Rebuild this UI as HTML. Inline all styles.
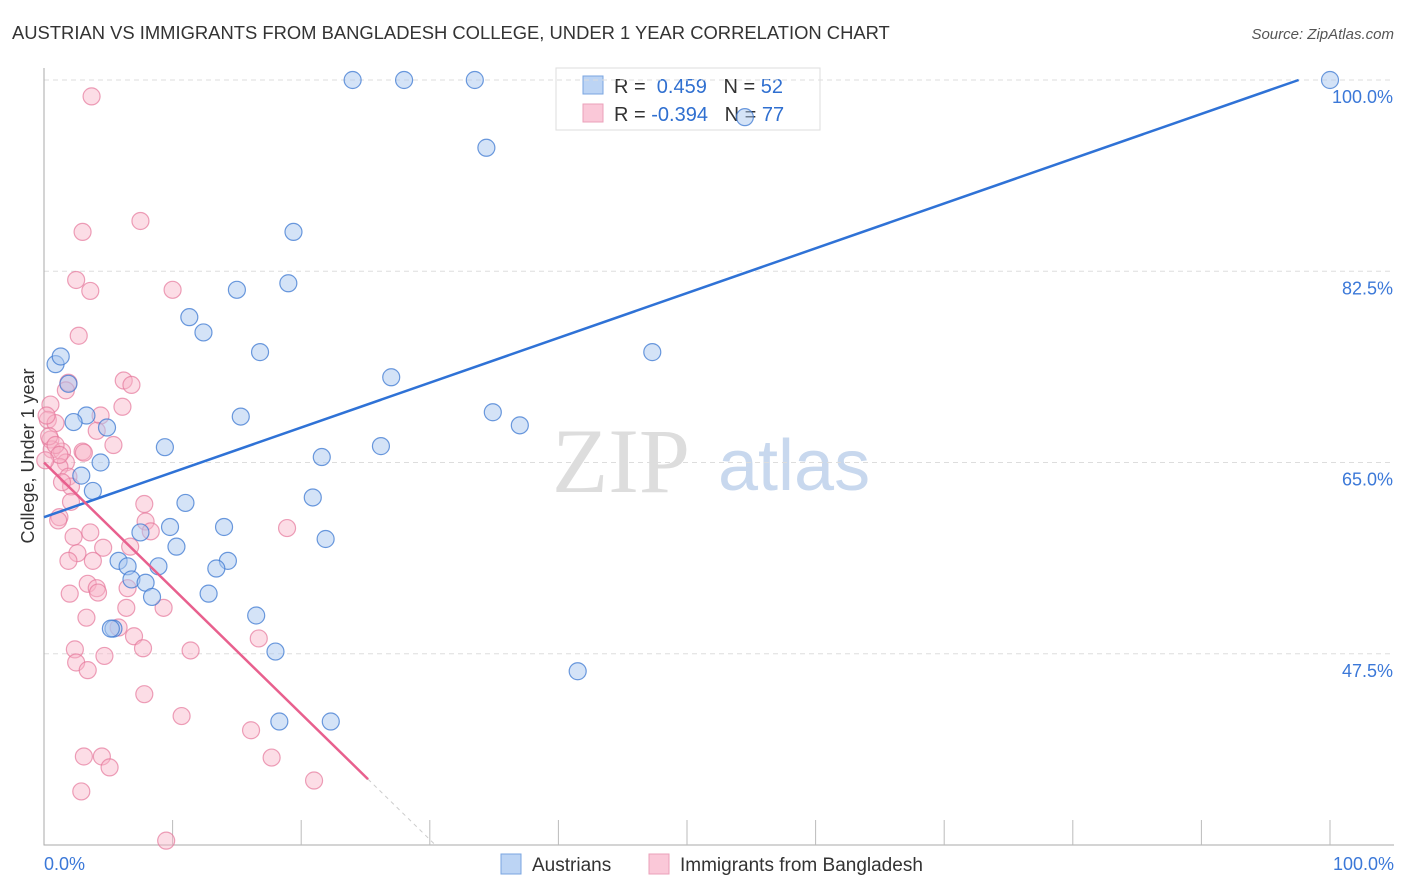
<!DOCTYPE html>
<html><head><meta charset="utf-8"><style>
body{margin:0;background:#fff;font-family:"Liberation Sans",sans-serif;}
</style></head><body>
<svg id="c" width="1406" height="892" style="display:block">
<text x="12" y="39" font-size="18.4" fill="#333">AUSTRIAN VS IMMIGRANTS FROM BANGLADESH COLLEGE, UNDER 1 YEAR CORRELATION CHART</text>
<text x="1394" y="39" font-size="15" fill="#555" font-style="italic" text-anchor="end">Source: ZipAtlas.com</text>
<g><text x="552" y="492" font-size="92" fill="#ddd" font-family="Liberation Serif,serif">ZIP</text><text x="718" y="490" font-size="72" fill="#c8d8ee">atlas</text></g>
<g>
<rect x="556" y="68" width="264" height="62" fill="#fff" stroke="#ddd"/>
<rect x="583" y="76" width="20" height="18" fill="#bcd4f4" stroke="#7aa5e0"/>
<rect x="583" y="104" width="20" height="18" fill="#fac8d8" stroke="#eba0ba"/>
<text x="614" y="93" font-size="20" fill="#333">R = <tspan fill="#2f6fd0">&#160;0.459</tspan>&#160;&#160;&#160;N = <tspan fill="#2f6fd0">52</tspan></text>
<text x="614" y="121" font-size="20" fill="#333">R = <tspan fill="#2f6fd0">-0.394</tspan>&#160;&#160;&#160;N = <tspan fill="#2f6fd0">77</tspan></text>
</g>
<g id="grid"></g><g id="pts"></g><g id="trend"></g>
<text transform="translate(34,456) rotate(-90)" font-size="18" fill="#333" text-anchor="middle">College, Under 1 year</text>
<text x="44" y="870" font-size="18" fill="#3b78d8">0.0%</text>
<text x="1394" y="870" font-size="18" fill="#3b78d8" text-anchor="end">100.0%</text>
<g>
<rect x="501" y="854" width="20" height="20" fill="#bcd4f4" stroke="#7aa5e0"/>
<text x="532" y="871" font-size="19" fill="#333">Austrians</text>
<rect x="649" y="854" width="20" height="20" fill="#fac8d8" stroke="#eba0ba"/>
<text x="680" y="871" font-size="19" fill="#333">Immigrants from Bangladesh</text>
</g>
</svg>
<script>
const yTicks=[47.5,65.0,82.5,100.0];
const xTickCount=10;
const blueX=[24.0,28.0,33.5,100,34.4,19.4,15.0,19.0,11.3,12.4,16.8,47.3,0.9,1.3,1.9,27.0,15.3,34.9,37.0,3.3,2.3,4.9,26.2,9.4,21.6,4.4,2.9,3.8,11.0,20.9,9.8,14.0,7.5,10.3,21.9,5.8,6.5,8.9,14.3,13.4,6.8,7.9,8.4,12.8,16.5,5.4,5.2,18.0,41.5,18.3,22.3,54.5];
const blueY=[100,100,100,100,93.8,86.1,80.8,81.4,78.3,76.9,75.1,75.1,74.0,74.7,72.2,72.8,69.2,69.6,68.4,69.3,68.7,68.2,66.5,66.4,65.5,65.0,63.8,62.4,61.3,61.8,59.1,59.1,58.6,57.3,58.0,56.0,55.5,55.5,56.0,55.3,54.3,54.0,52.7,53.0,51.0,49.8,49.8,47.7,45.9,41.3,41.3,96.6];
const pinkX=[3.7,7.5,3.0,2.5,3.6,10.0,2.7,1.9,1.7,6.2,6.8,6.1,0.5,0.3,0.9,4.4,4.1,5.4,0.5,0.6,1.4,3.0,3.1,1.7,1.2,1.9,2.1,1.4,2.1,7.8,1.2,1.1,3.6,7.9,8.3,2.3,6.7,2.6,4.6,18.9,1.9,3.8,6.5,3.4,4.1,4.2,2.0,6.4,9.3,3.3,5.8,7.0,7.7,11.4,2.4,16.7,2.5,4.7,3.4,7.8,10.7,16.1,3.1,4.5,17.7,5.1,21.0,2.9,9.5,0.2,0.4,0.9,1.2,0.1];
const pinkY=[98.5,87.1,86.1,81.7,80.7,80.8,76.6,72.3,71.6,72.5,72.1,70.1,70.3,68.9,68.6,69.3,67.9,66.6,67.1,66.2,66.0,66.0,65.9,65.0,64.6,63.7,62.8,63.2,61.4,61.2,60.0,59.7,58.6,59.6,58.7,58.2,57.3,56.7,57.2,59.0,56.0,56.0,53.5,53.9,53.5,53.1,53.0,51.7,51.7,50.8,49.9,49.1,48.0,47.8,47.9,48.9,46.7,47.3,46.0,43.8,41.8,40.5,38.1,38.1,38.0,37.1,35.9,34.9,30.4,69.3,67.4,66.6,65.7,65.2];
const blueTrend=[60.0,0.41];   // intercept, slope
const pinkTrend=[65.0,-1.15];
const NS="http://www.w3.org/2000/svg";
const L=44,R=1330,T=80,B=845,yMin=30,yMax=100;
const sx=v=>L+(v/100)*(R-L);
const sy=v=>B-(v-yMin)/(yMax-yMin)*(B-T);
function mk(tag,attrs,parent){const e=document.createElementNS(NS,tag);for(const k in attrs)e.setAttribute(k,attrs[k]);parent.appendChild(e);return e;}
const grid=document.getElementById('grid');
yTicks.forEach(t=>{
 const ln=mk('line',{x1:L,x2:1394,y1:sy(t),y2:sy(t),stroke:'#ddd','stroke-dasharray':'5,4'},grid);
 
 
 const tx=mk('text',{x:1393,y:sy(t)+23,'font-size':18,fill:'#3b78d8','text-anchor':'end'},grid);
 tx.textContent=t.toFixed(1)+'%';
 
 
});
const ax=mk('path',{d:`M${L} 68V${B}H1394`,stroke:'#aaa',fill:'none'},grid);


for(let i=1;i<=xTickCount;i++){
 const tk=mk('line',{x1:sx(i*10),x2:sx(i*10),y1:B-25,y2:B,stroke:'#bbb'},grid);
 
 
}
const pts=document.getElementById('pts');
function series(xs,ys,fill,stroke,name){xs.forEach((x,i)=>{
 const c=mk('circle',{cx:sx(x),cy:sy(ys[i]),r:8.5,fill:fill,stroke:stroke,'stroke-width':1.2},pts);
 
 
});}
series(pinkX,pinkY,'rgba(248,180,200,0.45)','rgba(230,120,155,0.7)','bangladesh-point');
series(blueX,blueY,'rgba(170,200,240,0.5)','rgba(60,120,210,0.75)','austrian-point');
const tr=document.getElementById('trend');
const xb=(100-blueTrend[0])/blueTrend[1];
const bl=mk('line',{x1:sx(0),y1:sy(blueTrend[0]),x2:sx(xb),y2:sy(100),stroke:'#2f72d6','stroke-width':2.5},tr);


const pe=25.2,pz=(yMin-pinkTrend[0])/pinkTrend[1];
const pl=mk('line',{x1:sx(0),y1:sy(pinkTrend[0]),x2:sx(pe),y2:sy(pinkTrend[0]+pinkTrend[1]*pe),stroke:'#e8608e','stroke-width':2.5},tr);


const pd=mk('line',{x1:sx(pe),y1:sy(pinkTrend[0]+pinkTrend[1]*pe),x2:sx(pz),y2:sy(yMin),stroke:'#ccc','stroke-width':1,'stroke-dasharray':'4,4'},tr);


</script>
</body></html>
